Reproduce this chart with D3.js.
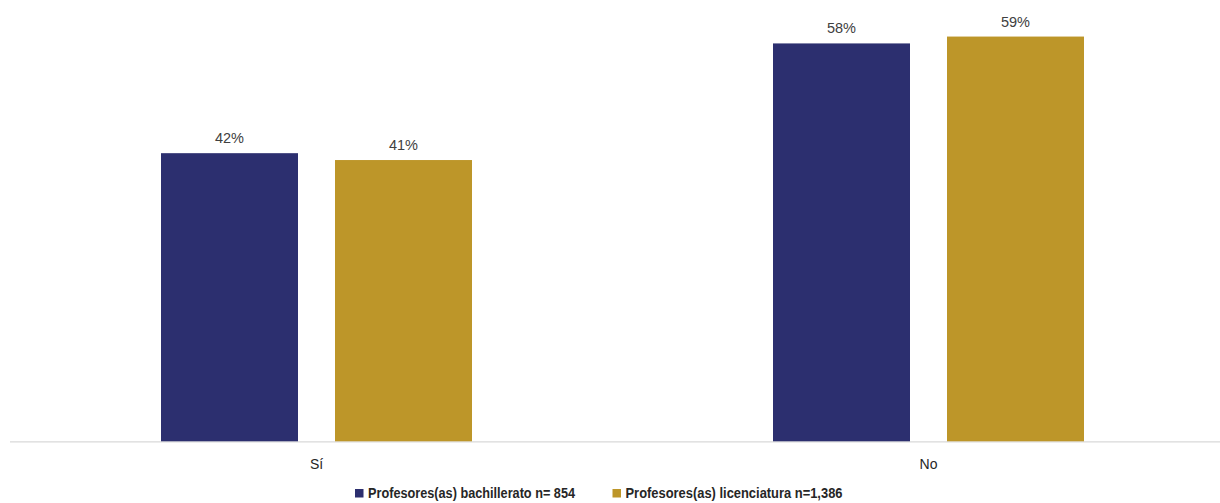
<!DOCTYPE html>
<html>
<head>
<meta charset="utf-8">
<script src="https://cdn.jsdelivr.net/npm/d3@7"></script>
<style>
  html, body { margin: 0; padding: 0; background: #fff; }
  svg { display: block; }
</style>
</head>
<body>
<svg id="chart" width="1220" height="503"></svg>
<script>
// Respuestas por categoría
const categories = ["Sí", "No"];
const seriesNames = ["Profesores(as) bachillerato n= 854", "Profesores(as) licenciatura n=1,386"];
const bachillerato = [42, 58];
const licenciatura = [41, 59];
const seriesColors = ["#2C2F6F", "#BD9629"];

const seriesValues = [bachillerato, licenciatura];
const rows = categories.map((c, i) => ({
  category: c,
  values: seriesNames.map((s, j) => ({ key: s, value: seriesValues[j][i], idx: j }))
}));

const svg = d3.select("#chart");
const font = "'Liberation Sans', Arial, sans-serif";

const baseY = 441.3;
const y = d3.scaleLinear().domain([0, 60]).range([baseY, baseY - 60 * 6.86]);

const x0 = d3.scaleBand().domain(categories).range([10.5, 1234.5]).paddingInner(0).paddingOuter(0);
const groupW = 311;
const x1 = d3.scaleBand().domain(seriesNames).range([0, groupW]).paddingInner(37 / 174);
const groupOffset = (x0.bandwidth() - groupW) / 2;

// baseline
svg.append("line")
  .attr("x1", 10).attr("x2", 1220)
  .attr("y1", baseY + 0.5).attr("y2", baseY + 0.5)
  .attr("stroke", "#d9d9d9").attr("stroke-width", 1.3);

const groups = svg.selectAll("g.cat")
  .data(rows).enter().append("g")
  .attr("class", "cat")
  .attr("transform", d => `translate(${x0(d.category) + groupOffset},0)`);

groups.selectAll("rect")
  .data(d => d.values).enter().append("rect")
  .attr("x", d => x1(d.key))
  .attr("width", x1.bandwidth())
  .attr("y", d => y(d.value))
  .attr("height", d => y(0) - y(d.value))
  .attr("fill", d => seriesColors[d.idx]);

groups.selectAll("text.val")
  .data(d => d.values).enter().append("text")
  .attr("class", "val")
  .attr("x", d => x1(d.key) + x1.bandwidth() / 2)
  .attr("y", d => y(d.value) - 10)
  .attr("text-anchor", "middle")
  .attr("font-family", font)
  .attr("font-size", 14.5)
  .attr("fill", "#404040")
  .text(d => d.value + "%");

// category axis labels
svg.selectAll("text.cat")
  .data(categories).enter().append("text")
  .attr("class", "cat")
  .attr("x", d => x0(d) + x0.bandwidth() / 2)
  .attr("y", 469)
  .attr("text-anchor", "middle")
  .attr("font-family", font)
  .attr("font-size", 14)
  .attr("fill", "#262626")
  .text(d => d);

// legend
const legendX = [355, 612.5];
const legendLen = [207, 217];
const legend = svg.selectAll("g.leg")
  .data(seriesNames).enter().append("g")
  .attr("class", "leg")
  .attr("transform", (d, i) => `translate(${legendX[i]},0)`);
legend.append("rect")
  .attr("x", 0).attr("y", 489).attr("width", 8.5).attr("height", 8.5)
  .attr("fill", (d, i) => seriesColors[i]);
legend.append("text")
  .attr("x", 13).attr("y", 498)
  .attr("font-family", font)
  .attr("font-size", 14)
  .attr("font-weight", "bold")
  .attr("fill", "#262626")
  .attr("textLength", (d, i) => legendLen[i])
  .attr("lengthAdjust", "spacingAndGlyphs")
  .text(d => d);
</script>
</body>
</html>
